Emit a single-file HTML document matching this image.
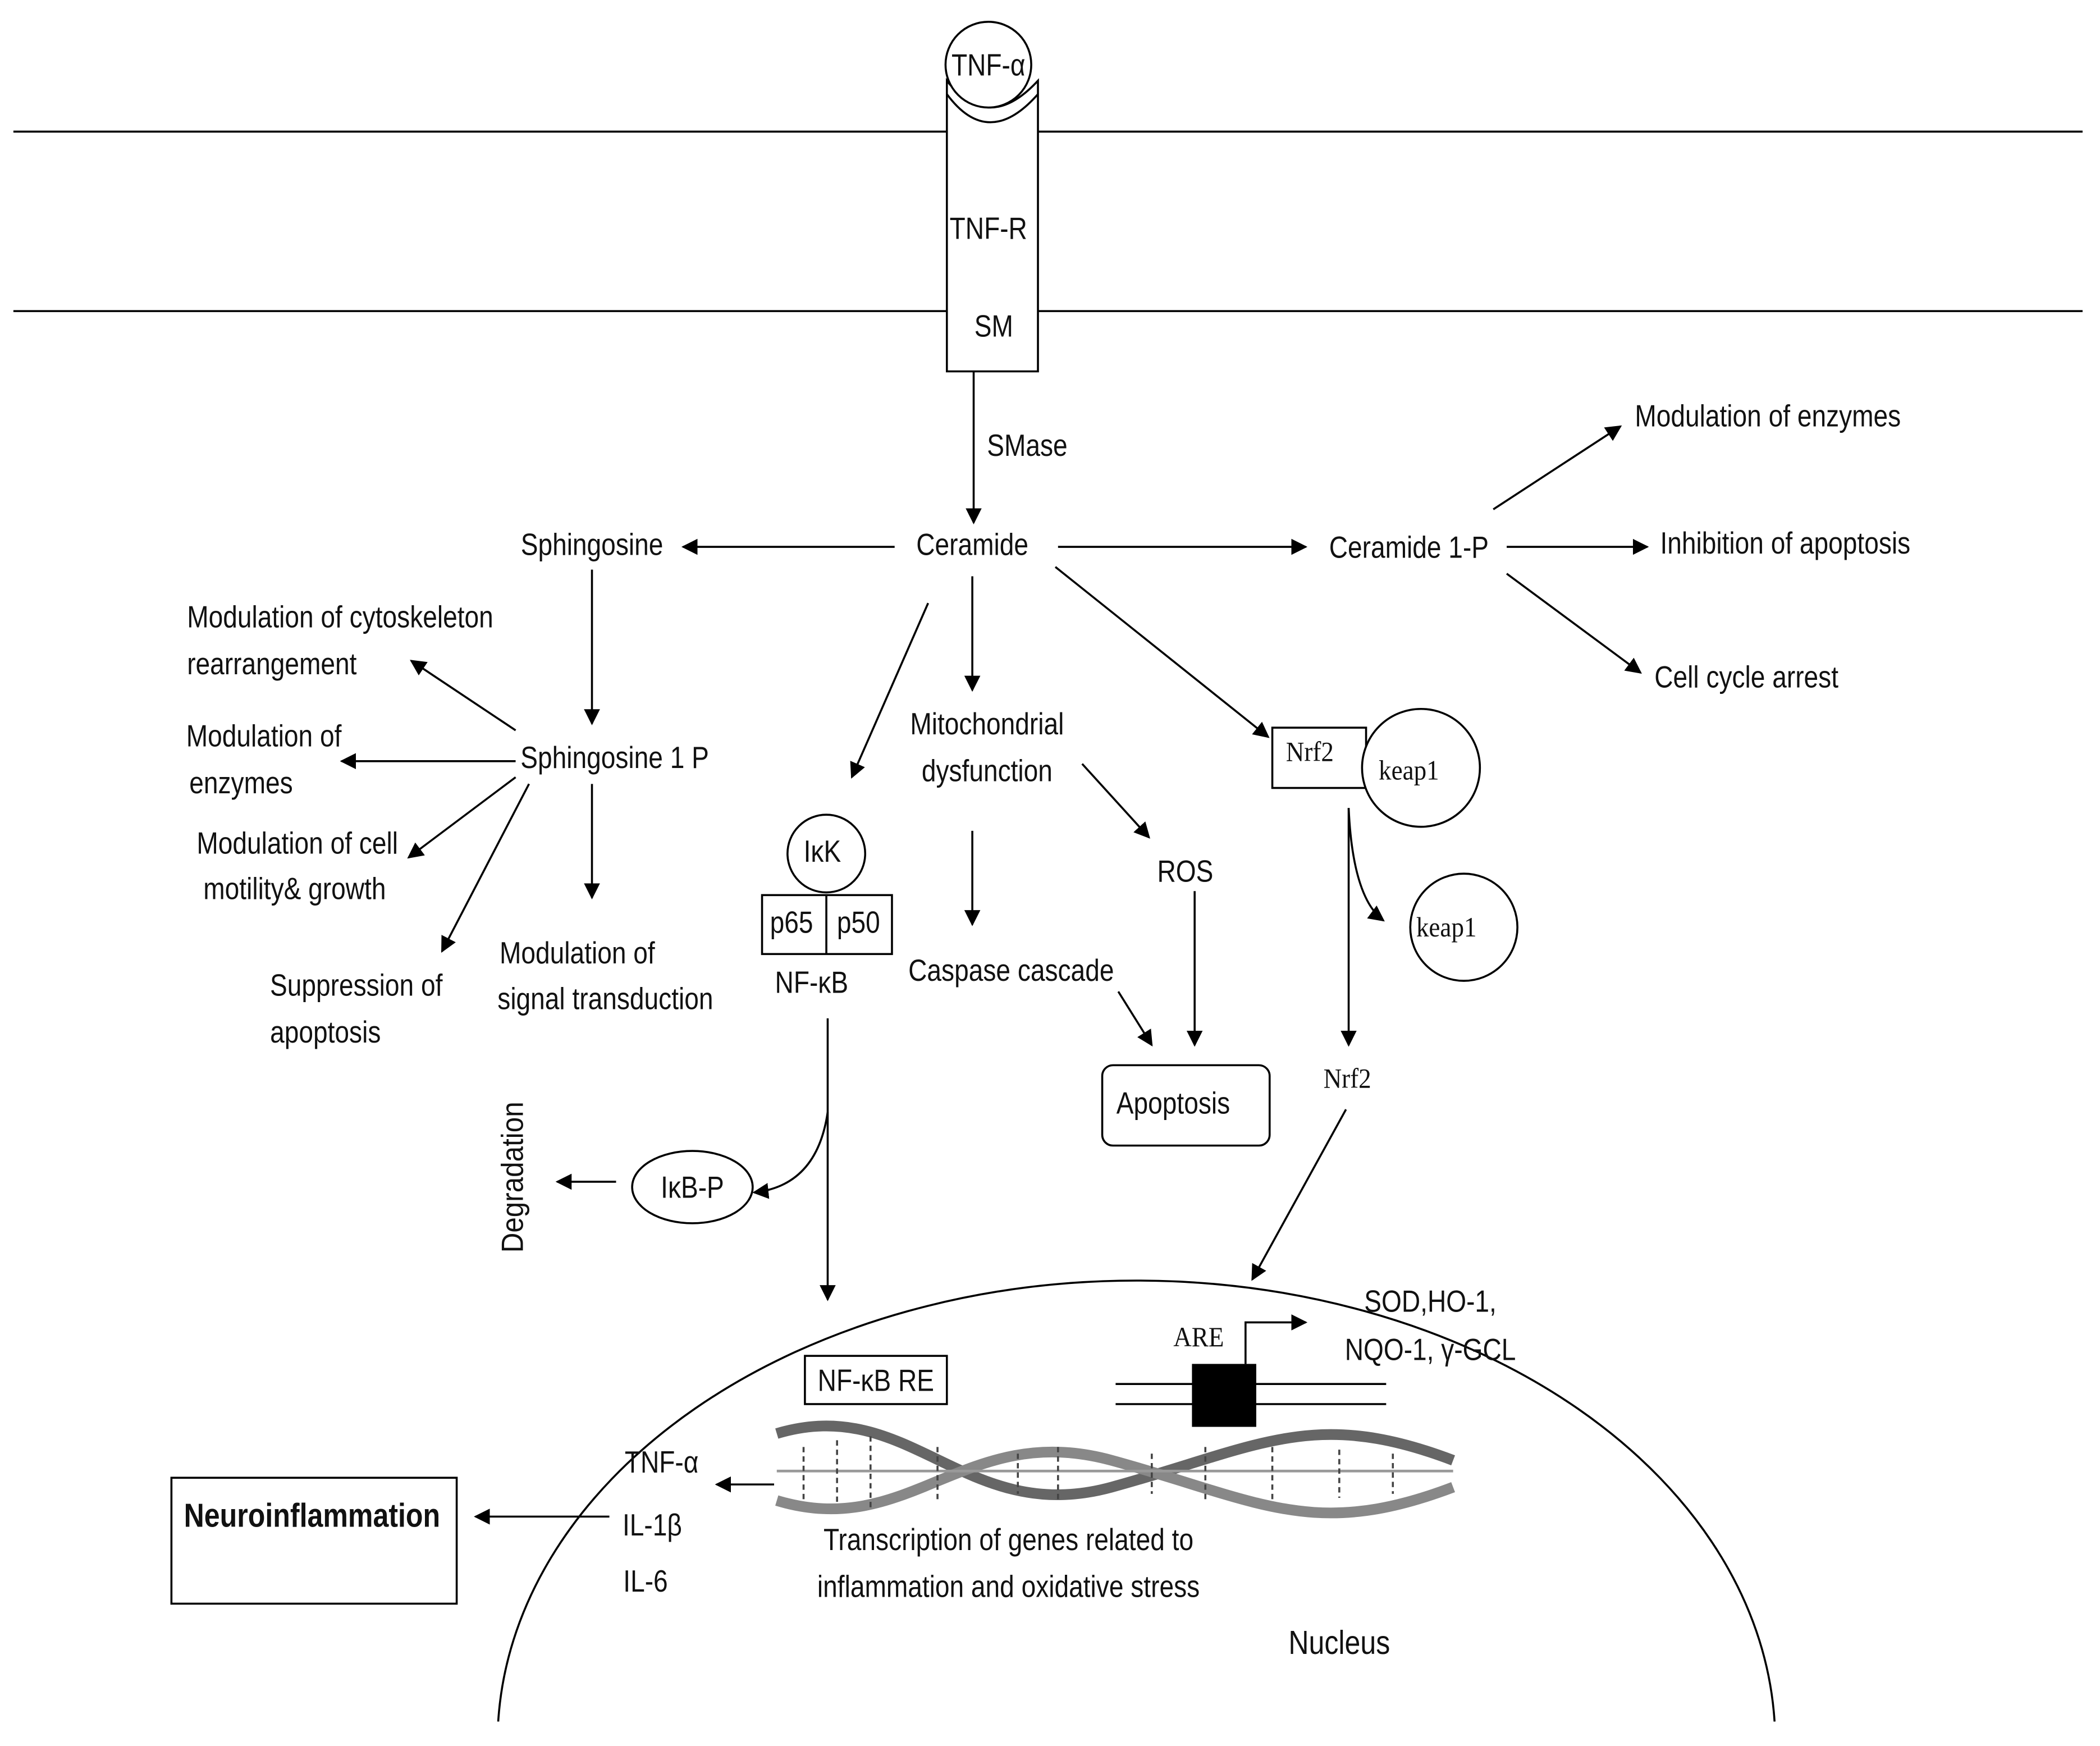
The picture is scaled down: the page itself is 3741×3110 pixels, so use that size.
<!DOCTYPE html>
<html><head><meta charset="utf-8"><style>
html,body{margin:0;padding:0;background:#fff;}
svg{display:block;}
text{font-family:"Liberation Sans",sans-serif;font-size:23px;fill:#111;text-anchor:middle;dominant-baseline:middle;transform-box:fill-box;transform-origin:center;transform:scaleX(0.84);}
text.r{transform:rotate(-90deg) scaleX(0.9);}
.s{font-family:"Liberation Serif",serif;font-size:21px;transform:scaleX(0.9);}
</style></head><body>
<svg width="3741" height="3110" viewBox="0 0 1568 1303" xmlns="http://www.w3.org/2000/svg">
<defs><marker id="b" viewBox="0 0 10 10" refX="9" refY="5" markerWidth="12" markerHeight="12" orient="auto" markerUnits="userSpaceOnUse"><path d="M0,0L10,5L0,10z" fill="#000"/></marker></defs>
<g stroke="#000" stroke-width="1.5" fill="none">
<line x1="10" y1="98" x2="1555" y2="98"/><line x1="10" y1="232" x2="1555" y2="232"/>
<path d="M707,277V60 Q738,100 775,60V277Z" fill="#fff"/>
<path d="M707,70 Q738,112 775,70"/>
<circle cx="738" cy="48" r="32" fill="#fff"/>
<g marker-end="url(#b)">
<line x1="727" y1="277" x2="727" y2="390"/>
<line x1="668" y1="408" x2="510" y2="408"/>
<line x1="790" y1="408" x2="975" y2="408"/>
<line x1="1115" y1="380" x2="1210" y2="318"/>
<line x1="1125" y1="408" x2="1230" y2="408"/>
<line x1="1125" y1="428" x2="1225" y2="502"/>
<line x1="442" y1="425" x2="442" y2="540"/>
<line x1="385" y1="545" x2="307" y2="493"/>
<line x1="385" y1="568" x2="255" y2="568"/>
<line x1="385" y1="580" x2="305" y2="640"/>
<line x1="395" y1="585" x2="330" y2="710"/>
<line x1="442" y1="585" x2="442" y2="670"/>
<line x1="693" y1="450" x2="636" y2="580"/>
<line x1="726" y1="430" x2="726" y2="515"/>
<line x1="808" y1="570" x2="858" y2="625"/>
<line x1="892" y1="665" x2="892" y2="780"/>
<line x1="726" y1="620" x2="726" y2="690"/>
<line x1="835" y1="740" x2="860" y2="780"/>
<line x1="788" y1="423" x2="947" y2="550"/>
<path d="M1007,603 Q1010,670 1033,687"/>
<line x1="1007" y1="603" x2="1007" y2="780"/>
<line x1="1005" y1="828" x2="935" y2="955"/>
<line x1="618" y1="760" x2="618" y2="970"/>
<path d="M618,830 Q610,885 563,890"/>
<line x1="460" y1="882" x2="416" y2="882"/>
<path d="M930,1018V987H975"/>
<line x1="578" y1="1108" x2="535" y2="1108"/>
<line x1="455" y1="1132" x2="355" y2="1132"/>
</g>
<rect x="823" y="795" width="125" height="60" rx="8"/>
<rect x="950" y="543" width="70" height="45"/>
<circle cx="1061" cy="573" r="44" fill="#fff"/>
<circle cx="1093" cy="692" r="40"/>
<circle cx="617" cy="637" r="29"/>
<rect x="569" y="668" width="97" height="44"/><line x1="617" y1="668" x2="617" y2="712"/>
<ellipse cx="517" cy="886" rx="45" ry="27"/>
<path d="M372,1285 A477 345 0 0 1 1325,1285"/>
<rect x="601" y="1012" width="106" height="36"/>
<rect x="128" y="1103" width="213" height="94"/>
<line x1="833" y1="1033" x2="1035" y2="1033"/><line x1="833" y1="1048" x2="1035" y2="1048"/>
<path d="M580,1070 C680,1040 720,1140 830,1110 S980,1050 1085,1090" stroke="#666" stroke-width="8"/>
<path d="M580,1120 C680,1150 720,1060 830,1090 S980,1150 1085,1110" stroke="#888" stroke-width="8"/>
<path d="M580,1098H1085" stroke="#999" stroke-width="2"/>
<path d="M600,1080V1120M625,1075V1122M650,1072V1125M700,1080V1120M760,1085V1115M790,1080V1120M860,1085V1115M900,1080V1120M950,1080V1120M1000,1082V1118M1040,1085V1115" stroke="#444" stroke-dasharray="4,3"/>
</g>
<rect x="890" y="1018" width="48" height="47" fill="#000"/>
<text x="738" y="50">TNF-α</text><text x="738" y="172">TNF-R</text><text x="742" y="245">SM</text>
<text x="767" y="334">SMase</text><text x="726" y="408">Ceramide</text><text x="442" y="408">Sphingosine</text>
<text x="1052" y="410">Ceramide 1-P</text><text x="1320" y="312">Modulation of enzymes</text>
<text x="1333" y="407">Inhibition of apoptosis</text><text x="1304" y="507">Cell cycle arrest</text>
<text x="459" y="567">Sphingosine 1 P</text>
<text x="254" y="462">Modulation of cytoskeleton</text><text x="203" y="497">rearrangement</text>
<text x="197" y="551">Modulation of</text><text x="180" y="586">enzymes</text>
<text x="222" y="631">Modulation of cell</text><text x="220" y="665">motility&amp; growth</text>
<text x="266" y="737">Suppression of</text><text x="243" y="772">apoptosis</text>
<text x="431" y="713">Modulation of</text><text x="452" y="747">signal transduction</text>
<text x="737" y="542">Mitochondrial</text><text x="737" y="577">dysfunction</text>
<text x="885" y="652">ROS</text><text x="755" y="726">Caspase cascade</text><text x="876" y="825">Apoptosis</text>
<text class="s" x="978" y="563">Nrf2</text><text class="s" x="1052" y="577">keap1</text>
<text class="s" x="1080" y="694">keap1</text><text class="s" x="1006" y="807">Nrf2</text>
<text x="614" y="637">IκK</text><text x="591" y="690">p65</text><text x="641" y="690">p50</text>
<text x="606" y="735">NF-κB</text><text x="517" y="888">IκB-P</text>
<text class="r" x="383" y="880">Degradation</text>
<text x="654" y="1032">NF-κB RE</text><text class="s" x="895" y="1000">ARE</text>
<text x="1068" y="973">SOD,HO-1,</text><text x="1068" y="1009">NQO-1, γ-GCL</text>
<text x="494" y="1093">TNF-α</text><text x="487" y="1140">IL-1β</text><text x="482" y="1182">IL-6</text>
<text x="233" y="1133" style="font-weight:bold;font-size:25px">Neuroinflammation</text>
<text x="753" y="1151">Transcription of genes related to</text>
<text x="753" y="1186">inflammation and oxidative stress</text>
<text x="1000" y="1228" style="font-size:25px">Nucleus</text>
</svg>
</body></html>
